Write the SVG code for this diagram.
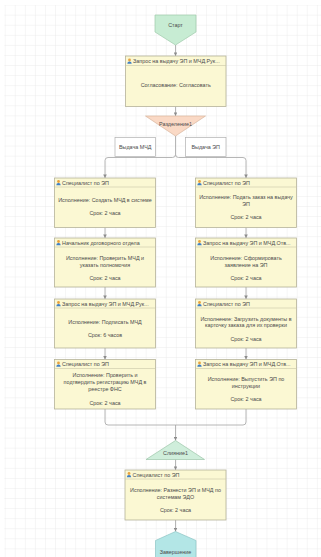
<svg xmlns="http://www.w3.org/2000/svg" width="321" height="557" viewBox="0 0 321 557">
<style>
.t{font-family:"Liberation Sans",Arial,sans-serif;font-size:5.4px;fill:#4a4a4a;text-anchor:middle}
.h{font-family:"Liberation Sans",Arial,sans-serif;font-size:5.4px;fill:#4a4a4a}
.box{fill:#fbf8d3;stroke:#b5b29a;stroke-width:0.8}
.sep{stroke:#c9c6a8;stroke-width:0.6}
.lbl{fill:#ffffff;stroke:#b0b0b0;stroke-width:0.7}
.c{fill:none;stroke:#a3a3a3;stroke-width:0.8}
</style>
<defs>
<pattern id="grid" x="4.7" y="14.7" width="10.07" height="10.07" patternUnits="userSpaceOnUse">
<path d="M0,0 H10.07 M0,0 V10.07" fill="none" stroke="#e3e3e3" stroke-width="0.7"/>
</pattern>
<marker id="arr" viewBox="0 0 4 4" refX="4" refY="2" markerWidth="3.6" markerHeight="3.6" markerUnits="userSpaceOnUse" orient="auto">
<path d="M0,0 L4,2 L0,4 z" fill="#8c8c8c"/>
</marker>
<g id="user">
<circle cx="0" cy="-1.3" r="1.4" fill="#e9a33e"/>
<path d="M-2.2,2.4 Q-2.2,0.2 0,0.2 Q2.2,0.2 2.2,2.4 z" fill="#3f7fc4"/>
</g>
</defs>
<rect x="0" y="0" width="321" height="557" fill="#ffffff"/>
<rect x="4.3" y="5" width="317" height="552" fill="url(#grid)"/>

<g id="connectors">
<path class="c" d="M175.5,45 V56" marker-end="url(#arr)"/>
<path class="c" d="M175.5,106.5 V116" marker-end="url(#arr)"/>
<path class="c" d="M175.5,136 V154.5 Q175.5,157.5 172.5,157.5 H108 Q105,157.5 105,160.5 V178" marker-end="url(#arr)"/>
<path class="c" d="M175.5,154.5 Q175.5,157.5 178.5,157.5 H243 Q246,157.5 246,160.5 V178" marker-end="url(#arr)"/>
<path class="c" d="M105,227.5 V238" marker-end="url(#arr)"/>
<path class="c" d="M105,287 V299" marker-end="url(#arr)"/>
<path class="c" d="M105,348 V359.5" marker-end="url(#arr)"/>
<path class="c" d="M246,227.5 V238" marker-end="url(#arr)"/>
<path class="c" d="M246,287 V299" marker-end="url(#arr)"/>
<path class="c" d="M246,348 V359.5" marker-end="url(#arr)"/>
<path class="c" d="M105,409 V422 Q105,425 108,425 H243 Q246,425 246,422 V409"/>
<path class="c" d="M175.5,425 V440.5" marker-end="url(#arr)"/>
<path class="c" d="M175.5,459.5 V470" marker-end="url(#arr)"/>
<path class="c" d="M175.5,520 V531.5" marker-end="url(#arr)"/>
<g id="label-mchd">
<rect class="lbl" x="115" y="137.5" width="40.5" height="19"/>
<text class="t" x="135.2" y="149">Выдача МЧД</text>
</g>
<g id="label-ep">
<rect class="lbl" x="185.5" y="137.5" width="40.5" height="19"/>
<text class="t" x="205.7" y="149">Выдача ЭП</text>
</g>
</g>

<g id="start">
<polygon points="155,15 196,15 196,32 175.5,45 155,32" fill="#c7ecd3" stroke="#9fcaab" stroke-width="0.7"/>
<text class="t" x="175.5" y="27">Старт</text>
</g>

<g id="approve">
<rect class="box" x="125.5" y="56" width="100.5" height="50.5"/>
<line class="sep" x1="125.5" y1="65.5" x2="226" y2="65.5"/>
<use href="#user" x="129.5" y="61.3"/>
<text class="h" x="133" y="63">Запрос на выдачу ЭП и МЧД.Рук...</text>
<text class="t" x="175.7" y="87">Согласование: Согласовать</text>
</g>

<g id="split">
<polygon points="145.5,116 205.5,116 175.5,136" fill="#fad9c5" stroke="#d9b49c" stroke-width="0.7"/>
<text class="t" x="175.5" y="126">Разделение1</text>
</g>

<g id="l1">
<rect class="box" x="54.5" y="178" width="101" height="49.5"/>
<line class="sep" x1="54.5" y1="187" x2="155.5" y2="187"/>
<use href="#user" x="58.5" y="182.8"/>
<text class="h" x="62" y="184.6">Специалист по ЭП</text>
<text class="t" x="105" y="202">Исполнение: Создать МЧД в системе</text>
<text class="t" x="105" y="215">Срок: 2 часа</text>
</g>

<g id="l2">
<rect class="box" x="54.5" y="238" width="101" height="49"/>
<line class="sep" x1="54.5" y1="247" x2="155.5" y2="247"/>
<use href="#user" x="58.5" y="242.8"/>
<text class="h" x="62" y="244.6">Начальник договорного отдела</text>
<text class="t" x="105" y="260.3">Исполнение: Проверить МЧД и</text>
<text class="t" x="105" y="266.5">указать полномочия</text>
<text class="t" x="105" y="279.7">Срок: 2 часа</text>
</g>

<g id="l3">
<rect class="box" x="54.5" y="299" width="101" height="49"/>
<line class="sep" x1="54.5" y1="308" x2="155.5" y2="308"/>
<use href="#user" x="58.5" y="303.8"/>
<text class="h" x="62" y="305.6">Запрос на выдачу ЭП и МЧД.Рук...</text>
<text class="t" x="105" y="323.7">Исполнение: Подписать МЧД</text>
<text class="t" x="105" y="337">Срок: 6 часов</text>
</g>

<g id="l4">
<rect class="box" x="54.5" y="359.5" width="101" height="49.5"/>
<line class="sep" x1="54.5" y1="368.5" x2="155.5" y2="368.5"/>
<use href="#user" x="58.5" y="364.3"/>
<text class="h" x="62" y="366.1">Специалист по ЭП</text>
<text class="t" x="105" y="377">Исполнение: Проверить и</text>
<text class="t" x="105" y="383.5">подтвердить регистрацию МЧД в</text>
<text class="t" x="105" y="391">реестре ФНС</text>
<text class="t" x="105" y="404.5">Срок: 2 часа</text>
</g>

<g id="r1">
<rect class="box" x="195.5" y="178" width="101" height="49.5"/>
<line class="sep" x1="195.5" y1="187" x2="296.5" y2="187"/>
<use href="#user" x="199.5" y="182.8"/>
<text class="h" x="203" y="184.6">Специалист по ЭП</text>
<text class="t" x="246" y="199.3">Исполнение: Подать заказ на выдачу</text>
<text class="t" x="246" y="205.8">ЭП</text>
<text class="t" x="246" y="219.3">Срок: 2 часа</text>
</g>

<g id="r2">
<rect class="box" x="195.5" y="238" width="101" height="49"/>
<line class="sep" x1="195.5" y1="247" x2="296.5" y2="247"/>
<use href="#user" x="199.5" y="242.8"/>
<text class="h" x="203" y="244.6">Запрос на выдачу ЭП и МЧД.Отв...</text>
<text class="t" x="246" y="260.3">Исполнение: Сформировать</text>
<text class="t" x="246" y="266.5">заявление на ЭП</text>
<text class="t" x="246" y="279.7">Срок: 2 часа</text>
</g>

<g id="r3">
<rect class="box" x="195.5" y="299" width="101" height="49"/>
<line class="sep" x1="195.5" y1="308" x2="296.5" y2="308"/>
<use href="#user" x="199.5" y="303.8"/>
<text class="h" x="203" y="305.6">Специалист по ЭП</text>
<text class="t" x="246" y="320.5">Исполнение: Загрузить документы в</text>
<text class="t" x="246" y="327">карточку заказа для их проверки</text>
<text class="t" x="246" y="341">Срок: 2 часа</text>
</g>

<g id="r4">
<rect class="box" x="195.5" y="359.5" width="101" height="49.5"/>
<line class="sep" x1="195.5" y1="368.5" x2="296.5" y2="368.5"/>
<use href="#user" x="199.5" y="364.3"/>
<text class="h" x="203" y="366.1">Запрос на выдачу ЭП и МЧД.Отв...</text>
<text class="t" x="246" y="381.3">Исполнение: Выпустить ЭП по</text>
<text class="t" x="246" y="387.8">инструкции</text>
<text class="t" x="246" y="401.3">Срок: 2 часа</text>
</g>

<g id="merge">
<polygon points="175.5,440.5 204.5,459.5 146,459.5" fill="#cfeedb" stroke="#9cc6a9" stroke-width="0.7"/>
<text class="t" x="175.5" y="455">Слияние1</text>
</g>

<g id="final">
<rect class="box" x="125" y="470" width="101" height="50"/>
<line class="sep" x1="125" y1="479" x2="226" y2="479"/>
<use href="#user" x="129" y="474.8"/>
<text class="h" x="132.5" y="476.6">Специалист по ЭП</text>
<text class="t" x="175.5" y="492">Исполнение: Разнести ЭП и МЧД по</text>
<text class="t" x="175.5" y="499.3">системам ЭДО</text>
<text class="t" x="175.5" y="512">Срок: 2 часа</text>
</g>

<g id="end">
<polygon points="175.5,531.5 196,540.5 196,560 155.5,560 155.5,540.5" fill="#b3e6e6" stroke="#8dc4c4" stroke-width="0.7"/>
<text class="t" x="175.5" y="553.5">Завершение</text>
</g>
</svg>
